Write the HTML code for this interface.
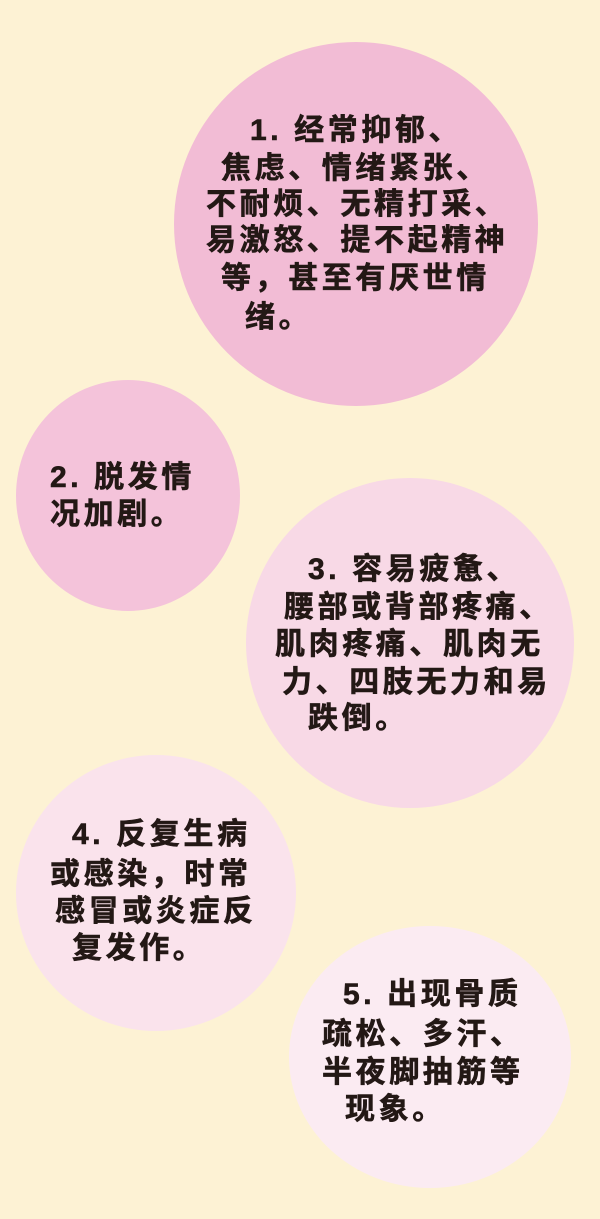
<!DOCTYPE html>
<html><head><meta charset="utf-8"><style>
html,body{margin:0;padding:0}
body{width:600px;height:1219px;background:#fdf2d4;position:relative;overflow:hidden;font-family:"Liberation Sans","Noto Sans CJK SC",sans-serif}
.c{position:absolute;border-radius:50%}
.t{position:absolute;font-size:30px;font-weight:bold;color:#231815;letter-spacing:3.6px;line-height:36px;white-space:nowrap;-webkit-text-stroke:0.6px #231815}
</style></head><body>
<div class="c" style="left:174px;top:42px;width:364px;height:364px;background:#f2bcd5"></div>
<div class="c" style="left:16px;top:380px;width:224px;height:231px;background:#f4c3da"></div>
<div class="c" style="left:246px;top:478px;width:328px;height:330px;background:#f8d9e6"></div>
<div class="c" style="left:16px;top:755px;width:280px;height:276px;background:#fae3ec"></div>
<div class="c" style="left:289px;top:926px;width:282px;height:262px;background:#fbebf2"></div>

<div class="t" style="left:250px;top:113px">1. 经常抑郁、</div>
<div class="t" style="left:221px;top:151px">焦虑、情绪紧张、</div>
<div class="t" style="left:206px;top:187px">不耐烦、无精打采、</div>
<div class="t" style="left:206px;top:223px">易激怒、提不起精神</div>
<div class="t" style="left:221px;top:261px">等，甚至有厌世情</div>
<div class="t" style="left:245px;top:300px">绪。</div>

<div class="t" style="left:50px;top:460px">2. 脱发情</div>
<div class="t" style="left:50px;top:497px">况加剧。</div>

<div class="t" style="left:308px;top:552px">3. 容易疲惫、</div>
<div class="t" style="left:284px;top:590px">腰部或背部疼痛、</div>
<div class="t" style="left:275px;top:627px">肌肉疼痛、肌肉无</div>
<div class="t" style="left:282px;top:665px">力、四肢无力和易</div>
<div class="t" style="left:308px;top:701px">跌倒。</div>

<div class="t" style="left:72px;top:817px">4. 反复生病</div>
<div class="t" style="left:50px;top:857px">或感染，时常</div>
<div class="t" style="left:55px;top:894px">感冒或炎症反</div>
<div class="t" style="left:72px;top:931px">复发作。</div>

<div class="t" style="left:343px;top:977px">5. 出现骨质</div>
<div class="t" style="left:322px;top:1017px">疏松、多汗、</div>
<div class="t" style="left:322px;top:1055px">半夜脚抽筋等</div>
<div class="t" style="left:345px;top:1092px">现象。</div>
</body></html>
